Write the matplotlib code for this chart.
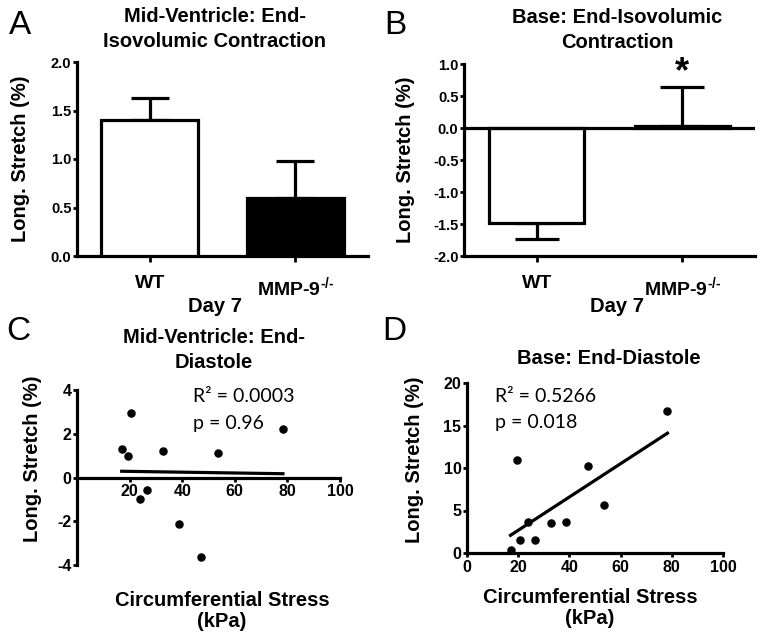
import numpy as np
import matplotlib.pyplot as plt

plt.rcParams['font.family'] = ['Liberation Sans', 'DejaVu Sans']
plt.rcParams['font.weight'] = 'bold'
plt.rcParams['axes.labelweight'] = 'bold'
plt.rcParams['axes.unicode_minus'] = False
plt.rcParams['mathtext.fontset'] = 'custom'
plt.rcParams['mathtext.rm'] = 'Liberation Sans:bold'
plt.rcParams['mathtext.bf'] = 'Liberation Sans:bold'

# bar panels
groups = ['WT', r'MMP-9$^{\text{-/-}}$']
mid_ivc_mean = [1.40, 0.60]
mid_ivc_sem = [0.23, 0.38]
base_ivc_mean = [-1.48, 0.03]
base_ivc_sem = [0.25, 0.61]

# scatter panels (same stress values for both)
stress = [17.0, 19.4, 20.6, 24.0, 26.7, 32.8, 38.7, 47.3, 53.7, 78.3]
mid_ed_stretch = [1.31, 0.98, 2.96, -0.96, -0.55, 1.19, -2.12, -3.64, 1.10, 2.24]
base_ed_stretch = [0.39, 10.94, 1.57, 3.69, 1.49, 3.49, 3.69, 10.2, 5.6, 16.7]

W, H = 764, 643
fig = plt.figure(figsize=(W / 100, H / 100), dpi=100)


def rect(x0, y0, x1, y1):
    return [x0 / W, 1 - y1 / H, (x1 - x0) / W, (y1 - y0) / H]


def ftext(x, y, s, **kw):
    fig.text(x / W, 1 - y / H, s, ha='center', va='center', **kw)


LW = 2.3
TICKFS = 10.5
LABFS = 14.5
TITFS = 14.5


def style(ax):
    for s in ['top', 'right']:
        ax.spines[s].set_visible(False)
    for s in ['left', 'bottom']:
        ax.spines[s].set_linewidth(LW)
    ax.tick_params(width=2, length=3, labelsize=TICKFS, pad=1)


# ---- A
axA = fig.add_axes(rect(77, 62, 368, 256))
x = np.arange(2)
axA.bar(x, mid_ivc_mean, width=0.67, color=['white', 'black'], edgecolor='black', linewidth=LW, zorder=3)
axA.errorbar(x, mid_ivc_mean, yerr=[[0, 0], mid_ivc_sem], fmt='none', ecolor='black',
             elinewidth=LW, capsize=14, capthick=LW, zorder=2)
axA.set_xlim(-0.5, 1.5)
axA.set_ylim(0, 2.0)
axA.set_yticks([0, 0.5, 1.0, 1.5, 2.0])
axA.set_yticklabels(['0.0', '0.5', '1.0', '1.5', '2.0'])
axA.set_xticks(x)
axA.set_xticklabels(groups)
style(axA)
axA.tick_params(axis='x', labelsize=14, pad=10, length=4)
axA.set_ylabel('Long. Stretch (%)', fontsize=LABFS)
axA.yaxis.set_label_coords(-0.16, 0.5)
ftext(215, 306, 'Day 7', fontsize=14.5)
ftext(215, 29, 'Mid-Ventricle: End-\nIsovolumic Contraction', fontsize=TITFS, linespacing=1.4)
ftext(20, 25, 'A', fontsize=24, fontweight='normal')

# ---- B
axB = fig.add_axes(rect(464, 64, 755, 256))
axB.bar(x, base_ivc_mean, width=0.65, color='white', edgecolor='black', linewidth=LW, zorder=3)
axB.errorbar(x, base_ivc_mean, yerr=[[base_ivc_sem[0], 0], [0, base_ivc_sem[1]]], fmt='none',
             ecolor='black', elinewidth=LW, capsize=16, capthick=LW, zorder=2)
axB.axhline(0, color='black', linewidth=LW, zorder=4)
axB.set_xlim(-0.5, 1.5)
axB.set_ylim(-2.0, 1.0)
axB.set_yticks([-2.0, -1.5, -1.0, -0.5, 0.0, 0.5, 1.0])
axB.set_yticklabels(['-2.0', '-1.5', '-1.0', '-0.5', '0.0', '0.5', '1.0'])
axB.set_xticks(x)
axB.set_xticklabels(groups)
style(axB)
axB.tick_params(axis='x', labelsize=14, pad=10, length=4)
axB.set_ylabel('Long. Stretch (%)', fontsize=LABFS)
axB.yaxis.set_label_coords(-0.168, 0.5)
axB.text(1, 0.86, '*', ha='center', va='center', fontsize=26, clip_on=False)
ftext(617, 306, 'Day 7', fontsize=14.5)
ftext(617, 30, 'Base: End-Isovolumic\nContraction', fontsize=TITFS, linespacing=1.4)
ftext(395, 25, 'B', fontsize=24, fontweight='normal')

# ---- C
axC = fig.add_axes(rect(77, 390, 340, 565))
axC.scatter(stress, mid_ed_stretch, s=26, color='black', zorder=3, clip_on=False)
k, b = np.polyfit(stress, mid_ed_stretch, 1)
xx = np.array([min(stress), max(stress)])
axC.plot(xx, k * xx + b, color='black', linewidth=LW)
axC.set_xlim(0, 100)
axC.set_ylim(-4, 4)
axC.set_xticks([20, 40, 60, 80, 100])
axC.set_yticks([-4, -2, 0, 2, 4])
axC.spines['bottom'].set_position(('data', 0))
style(axC)
axC.tick_params(axis='both', labelsize=11.5)
axC.tick_params(axis='x', pad=2)
axC.set_ylabel('Long. Stretch (%)', fontsize=LABFS)
axC.yaxis.set_label_coords(-0.133, 0.61)
axC.text(0.441, 0.96, 'R² = 0.0003', transform=axC.transAxes, family='Lato', fontweight='normal',
         fontsize=14, va='center')
axC.text(0.441, 0.806, 'p = 0.96', transform=axC.transAxes, family='Lato', fontweight='normal',
         fontsize=14, va='center')
ftext(222, 611, 'Circumferential Stress\n(kPa)', fontsize=14.5, linespacing=1.15)
ftext(214, 350, 'Mid-Ventricle: End-\nDiastole', fontsize=TITFS, linespacing=1.4)
ftext(18, 331, 'C', fontsize=24, fontweight='normal')

# ---- D
axD = fig.add_axes(rect(467, 383, 723, 553))
axD.scatter(stress, base_ed_stretch, s=26, color='black', zorder=3, clip_on=False)
k, b = np.polyfit(stress, base_ed_stretch, 1)
axD.plot(xx, k * xx + b, color='black', linewidth=LW)
axD.set_xlim(0, 100)
axD.set_ylim(0, 20)
axD.set_xticks([0, 20, 40, 60, 80, 100])
axD.set_yticks([0, 5, 10, 15, 20])
style(axD)
axD.tick_params(axis='both', labelsize=11.5)
axD.tick_params(axis='x', pad=2)
axD.set_ylabel('Long. Stretch (%)', fontsize=LABFS)
axD.yaxis.set_label_coords(-0.168, 0.55)
axD.text(0.11, 0.919, 'R² = 0.5266', transform=axD.transAxes, family='Lato', fontweight='normal',
         fontsize=14, va='center')
axD.text(0.11, 0.766, 'p = 0.018', transform=axD.transAxes, family='Lato', fontweight='normal',
         fontsize=14, va='center')
ftext(590, 608, 'Circumferential Stress\n(kPa)', fontsize=14.5, linespacing=1.15)
ftext(609, 358, 'Base: End-Diastole', fontsize=TITFS)
ftext(394, 331, 'D', fontsize=24, fontweight='normal')

fig.savefig('out.png', dpi=100)
